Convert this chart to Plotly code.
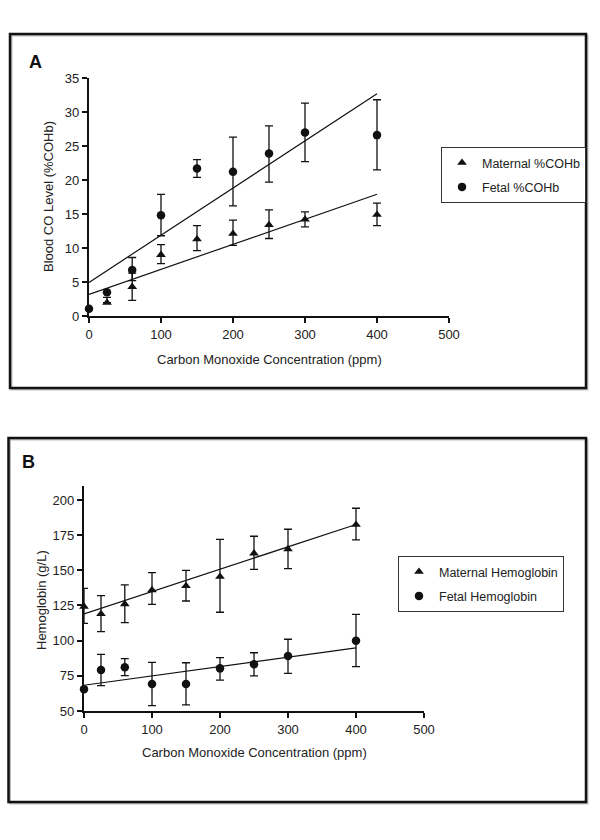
import plotly.graph_objects as go

# ---------------- Panel A data (Blood CO level, %COHb) ----------------
a_mat_x = [25, 60, 100, 150, 200, 250, 300, 400]
a_mat_y = [1.95, 4.3, 9.0, 11.3, 12.1, 13.4, 14.2, 14.9]
a_mat_up = [0.8, 2.0, 1.5, 2.0, 2.0, 2.2, 1.1, 1.7]
a_mat_dn = [0.0, 2.0, 1.3, 1.7, 1.7, 2.0, 1.1, 1.6]

a_fet_x = [0, 25, 60, 100, 150, 200, 250, 300, 400]
a_fet_y = [1.07, 3.5, 6.75, 14.8, 21.7, 21.2, 23.9, 27.0, 26.6]
a_fet_up = [0, 0, 1.85, 3.1, 1.3, 5.1, 4.05, 4.3, 5.2]
a_fet_dn = [0, 0, 1.55, 3.0, 1.3, 5.0, 4.2, 4.3, 5.1]

# fitted regression lines (intercept, slope)
a_mat_fit = (3.18, 0.0368)
a_fet_fit = (4.94, 0.0694)

# ---------------- Panel B data (Hemoglobin, g/L) ----------------
b_mat_x = [0, 25, 60, 100, 150, 200, 250, 300, 400]
b_mat_y = [124.2, 119.0, 126.0, 136.0, 138.9, 145.5, 162.1, 165.0, 182.4]
b_mat_up = [13.0, 13.0, 13.6, 12.3, 11.1, 26.5, 12.1, 14.2, 11.7]
b_mat_dn = [11.9, 12.6, 13.2, 10.2, 10.7, 25.3, 11.4, 13.8, 10.8]

b_fet_x = [0, 25, 60, 100, 150, 200, 250, 300, 400]
b_fet_y = [65.4, 79.1, 81.1, 69.2, 69.2, 80.3, 83.2, 89.1, 100.0]
b_fet_up = [0, 11.2, 6.1, 15.4, 15.1, 7.6, 8.2, 11.9, 18.7]
b_fet_dn = [0, 11.1, 6.0, 15.4, 14.9, 8.3, 8.3, 12.3, 18.5]

b_mat_fit = (119.0, 0.159)
b_fet_fit = (68.3, 0.0663)

fit_x = [0, 400]

x_ticks = [0, 100, 200, 300, 400, 500]
a_y_ticks = [0, 5, 10, 15, 20, 25, 30, 35]
b_y_ticks = [50, 75, 100, 125, 150, 175, 200]

W, H = 600, 840
FONT = "Liberation Sans, Arial, sans-serif"
INK = "#111111"
TXT = "#222222"


def px_x(p):
    return p / W


def px_y(p):
    return 1 - p / H


fig = go.Figure()


def add_series(x, y, up, dn, symbol, name, xa, ya, legend, group):
    fig.add_trace(go.Scatter(
        x=x, y=y, mode="markers", name=name, legendgroup=group,
        marker=dict(symbol=symbol, size=8.5, color=INK),
        error_y=dict(type="data", symmetric=False, array=up, arrayminus=dn,
                     color=INK, thickness=1.3, width=4),
        xaxis=xa, yaxis=ya, legend=legend, cliponaxis=False,
    ))


def add_fit(fit, xa, ya):
    b0, b1 = fit
    fig.add_trace(go.Scatter(
        x=fit_x, y=[b0 + b1 * v for v in fit_x], mode="lines",
        line=dict(color=INK, width=1.2), showlegend=False,
        xaxis=xa, yaxis=ya, hoverinfo="skip", cliponaxis=False,
    ))


# Panel A
add_fit(a_fet_fit, "x", "y")
add_fit(a_mat_fit, "x", "y")
add_series(a_mat_x, a_mat_y, a_mat_up, a_mat_dn, "triangle-up", "Maternal %COHb", "x", "y", "legend", "am")
add_series(a_fet_x, a_fet_y, a_fet_up, a_fet_dn, "circle", "Fetal %COHb", "x", "y", "legend", "af")

# Panel B
add_fit(b_mat_fit, "x2", "y2")
add_fit(b_fet_fit, "x2", "y2")
add_series(b_mat_x, b_mat_y, b_mat_up, b_mat_dn, "triangle-up", "Maternal Hemoglobin", "x2", "y2", "legend2", "bm")
add_series(b_fet_x, b_fet_y, b_fet_up, b_fet_dn, "circle", "Fetal Hemoglobin", "x2", "y2", "legend2", "bf")

axis_common = dict(
    showline=True, linecolor=INK, linewidth=2.2, mirror=False,
    ticks="outside", ticklen=5, tickwidth=2, tickcolor=INK,
    showgrid=False, zeroline=False,
    tickfont=dict(family=FONT, size=13, color=TXT),
    automargin=False,
)

legend_common = dict(
    xanchor="left", yanchor="top",
    bordercolor="#333333", borderwidth=1, bgcolor="white",
    font=dict(family=FONT, size=12.5, color=TXT),
    tracegroupgap=5, itemsizing="trace", itemwidth=30,
)

fig.update_layout(
    width=W, height=H,
    margin=dict(l=0, r=0, t=0, b=0),
    paper_bgcolor="white", plot_bgcolor="white",
    font=dict(family=FONT, color=TXT),
    xaxis=dict(domain=[px_x(89), px_x(449)], range=[0, 500], tickvals=x_ticks,
               anchor="y", **axis_common),
    yaxis=dict(domain=[px_y(316), px_y(78)], range=[0, 35], tickvals=a_y_ticks,
               anchor="x", **axis_common),
    xaxis2=dict(domain=[px_x(84), px_x(424)], range=[0, 500], tickvals=x_ticks,
                anchor="y2", **axis_common),
    yaxis2=dict(domain=[px_y(711), px_y(485.9)], range=[50, 210], tickvals=b_y_ticks,
                anchor="x2", **axis_common),
    legend=dict(x=px_x(441), y=px_y(147), **legend_common),
    legend2=dict(x=px_x(398), y=px_y(556), **legend_common),
    showlegend=True,
)

shapes = []
for (x0, y0, x1, y1) in [(10, 34, 586, 388), (8.5, 438, 586, 802)]:
    # faint shadow
    shapes.append(dict(type="rect", xref="paper", yref="paper",
                       x0=px_x(x0 + 1.5), x1=px_x(x1 + 1.5), y0=px_y(y1 + 1.5), y1=px_y(y0 + 1.5),
                       line=dict(color="#bbbbbb", width=2), fillcolor="rgba(0,0,0,0)",
                       layer="below"))
    shapes.append(dict(type="rect", xref="paper", yref="paper",
                       x0=px_x(x0), x1=px_x(x1), y0=px_y(y1), y1=px_y(y0),
                       line=dict(color=INK, width=2.5), fillcolor="rgba(0,0,0,0)",
                       layer="below"))
fig.update_layout(shapes=shapes)


def label(text, x, y, size=13, angle=0, family=FONT, color=TXT):
    return dict(text=text, x=px_x(x), y=px_y(y), xref="paper", yref="paper",
                xanchor="center", yanchor="middle", showarrow=False, textangle=angle,
                font=dict(family=family, size=size, color=color))


ann = [
    label("<b>A</b>", 35, 62, size=18, color=INK),
    label("<b>B</b>", 28, 462, size=18, color=INK),
    label("Blood CO Level (%COHb)", 48, 197, angle=-90),
    label("Carbon Monoxide Concentration (ppm)", 269, 359),
    label("Hemoglobin (g/L)", 41, 600, angle=-90),
    label("Carbon Monoxide Concentration (ppm)", 254, 752),
]
fig.update_layout(annotations=ann)

fig.write_html("out.html", config={"displayModeBar": False},
               post_script="document.body.style.margin='0px';")
